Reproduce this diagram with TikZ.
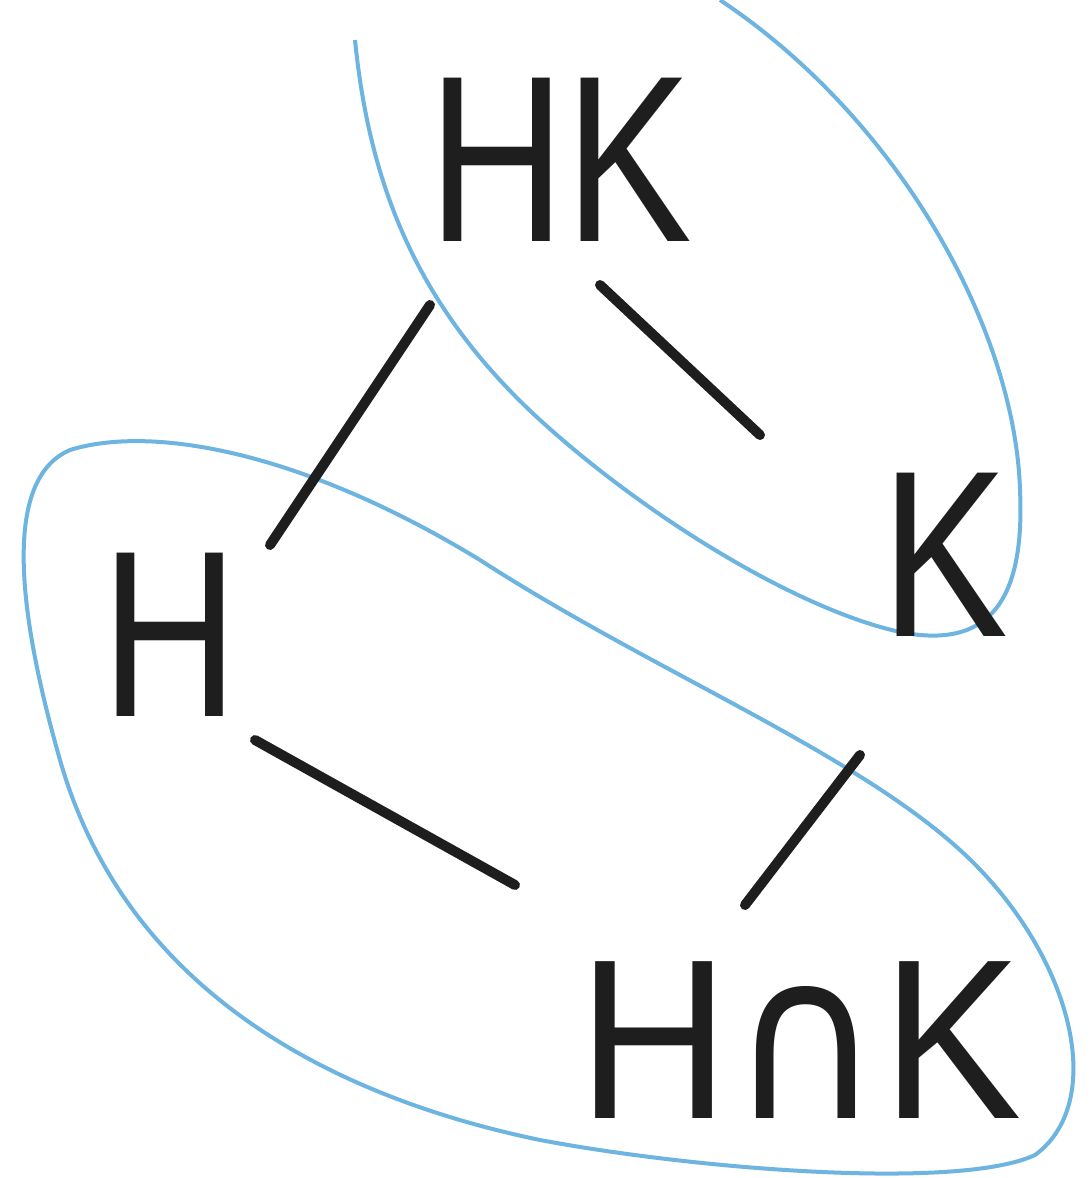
\documentclass[tikz,border=0pt]{standalone}
\usepackage{fontspec}
\setmainfont{Liberation Sans}
\newfontfamily\capfont{DejaVu Sans}
\usetikzlibrary{calc}
\definecolor{loopblue}{RGB}{110,180,225}
\definecolor{ink}{RGB}{30,30,30}
\newcommand{\tallbox}[1]{\scalebox{1}[1.25]{#1}}
\tikzset{
  lbl/.style={font=\fontsize{190}{200}\selectfont, text=ink, inner sep=0pt},
  edge/.style={draw=ink, line width=10pt, line cap=round},
  loopline/.style={draw=loopblue, line width=4pt}
}
\begin{document}
\begin{tikzpicture}[x=1pt,y=-1pt]
\useasboundingbox[fill=white] (0,0) rectangle (1091,1178);
% loops
\draw[loopline] (355,40) .. controls (370,190) and (420,310) .. (540,420)
  .. controls (650,520) and (800,610) .. (900,632)
  .. controls (990,650) and (1025,600) .. (1020,490)
  .. controls (1015,330) and (900,120) .. (720,0);
\draw[loopline] (70,450) .. controls (150,425) and (300,450) .. (480,560)
  .. controls (650,670) and (850,750) .. (960,850)
  .. controls (1070,950) and (1110,1100) .. (1035,1155)
  .. controls (960,1190) and (700,1170) .. (540,1140)
  .. controls (300,1090) and (120,970) .. (60,760)
  .. controls (20,620) and (0,480) .. (70,450) -- cycle;
% labels
\node[lbl] (HK) at (560,160) {\tallbox{HK}};
\node[lbl] (H) at (170,635) {\tallbox{H}};
\node[lbl] (K) at (945,555) {\tallbox{K}};
\node[lbl] (HnK) at (800,1040) {\scalebox{1.1}[1.2]{H{\capfont ∩}K}};
% connectors
\draw[edge] ($(HK)+(-130,145)$) -- ($(H)+(100,-90)$);
\draw[edge] ($(HK)+(40,125)$) -- ($(K)+(-185,-120)$);
\draw[edge] ($(H)+(85,105)$) -- ($(HnK)+(-285,-155)$);
\draw[edge] ($(K)+(-85,200)$) -- ($(HnK)+(-55,-135)$);
\end{tikzpicture}
\end{document}
